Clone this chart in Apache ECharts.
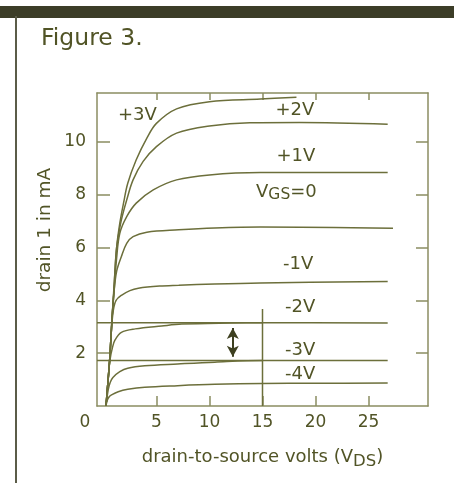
<!DOCTYPE html>
<html><head><meta charset="utf-8">
<script src="https://cdn.jsdelivr.net/npm/echarts@6/dist/echarts.min.js"></script>
<style>html,body{margin:0;padding:0;background:#fff}#c{width:454px;height:483px}</style>
</head><body><div id="c"></div>
<script>
// Drain characteristics of a JFET: drain current (mA) vs drain-to-source voltage (V)
const curveP3 = [[0.25,0],[0.45,1.0],[0.62,1.9],[0.8,3.2],[1.0,4.5],[1.25,6.0],[1.55,6.92],[1.9,7.68],[2.3,8.43],[3.1,9.32],[4.1,10.14],[5.0,10.7],[6.9,11.25],[10,11.52],[14.8,11.62],[18.2,11.69]];
const curveP2 = [[0.25,0],[0.45,1.0],[0.62,1.9],[0.8,3.2],[1.0,4.4],[1.2,5.8],[1.4,6.4],[1.7,7.05],[2.2,7.8],[2.8,8.56],[3.75,9.26],[5.0,9.82],[6.9,10.33],[10,10.6],[13.8,10.72],[18.5,10.73],[26.8,10.67]];
const curveP1 = [[0.25,0],[0.45,1.0],[0.62,1.9],[0.8,3.2],[1.0,4.3],[1.25,5.6],[1.55,6.54],[2.2,7.17],[3.1,7.68],[4.7,8.18],[6.9,8.56],[10,8.75],[14.8,8.84],[26.8,8.84]];
const curve0 = [[0.25,0],[0.45,1.0],[0.62,1.9],[0.8,3.2],[1.0,4.3],[1.25,5.1],[1.7,5.66],[2.2,6.16],[2.8,6.41],[4.1,6.58],[7.1,6.67],[10.5,6.74],[14.8,6.78],[27.3,6.73]];
const curveM1 = [[0.25,0],[0.45,1.0],[0.62,1.9],[0.77,2.95],[0.95,3.65],[1.2,4.0],[1.7,4.19],[2.5,4.37],[3.3,4.46],[5.3,4.54],[7.1,4.57],[10.5,4.62],[14.8,4.66],[26.8,4.71]];
const curveM2 = [[0.25,0],[0.45,1.0],[0.62,1.74],[0.85,2.2],[1.1,2.5],[1.7,2.79],[3.0,2.92],[5.5,3.03],[7.4,3.1],[12,3.14],[15,3.15],[26.8,3.14]];
const curveM3 = [[0.25,0],[0.45,0.6],[0.65,0.9],[0.9,1.08],[1.55,1.3],[2.3,1.43],[3.9,1.52],[7,1.59],[10.5,1.66],[15,1.72],[26.8,1.72]];
const curveM4 = [[0.25,0],[0.35,0.2],[0.55,0.35],[0.77,0.42],[1.4,0.54],[2.3,0.63],[3.9,0.71],[7,0.77],[10.5,0.82],[15,0.85],[20,0.86],[26.8,0.87]];

const curves = [curveP3, curveP2, curveP1, curve0, curveM1, curveM2, curveM3, curveM4];
const gateLabels = ['+3V', '+2V', '+1V', '{v|V}{s|GS}{v|=0}', '-1V', '-2V', '-3V', '-4V'];
const gateLabelAt = [[3.25,10.98],[18.1,11.16],[18.2,9.43],[17.3,8.05],[18.4,5.34],[18.6,3.73],[18.6,2.1],[18.6,1.19]];

// Reference levels between the -2V and -3V curves, and the V_DS marker
const levelHigh = 3.15, levelLow = 1.72;
const levelEndV = 15, markerTop = 3.67;
const arrowV = 12.2, arrowTop = 2.95, arrowBottom = 1.86;

const xTickLabels = [0, 5, 10, 15, 20, 25];
const xTicks = [5, 10, 15, 20, 25];
const yTickLabels = [2, 4, 6, 8, 10];

const ink = '#515426';
const lineCol = '#6c6f3b';
const frameCol = '#8b8d62';
const font = 'DejaVu Sans';

const chart = echarts.init(document.getElementById('c'), null, {renderer: 'canvas'});

const curveSeries = curves.map(d => ({
  type: 'line', data: d, smooth: 0.35, symbol: 'none', silent: true,
  lineStyle: {color: lineCol, width: 1.5}, xAxisIndex: 0, yAxisIndex: 0
}));

const refSeries = [
  [[-0.6, levelHigh], [levelEndV, levelHigh]],
  [[-0.6, levelLow], [levelEndV, levelLow]],
  [[levelEndV, 0], [levelEndV, markerTop]]
].map(d => ({
  type: 'line', data: d, symbol: 'none', silent: true,
  lineStyle: {color: lineCol, width: 1.5}
}));

const arrowSeries = {
  type: 'line', data: [], silent: true,
  markLine: {
    silent: true, symbol: ['arrow', 'arrow'], symbolSize: [9, 11],
    label: {show: false},
    lineStyle: {color: '#3e4020', width: 2, type: 'solid'},
    data: [[{coord: [arrowV, arrowTop]}, {coord: [arrowV, arrowBottom]}]]
  }
};

const labelSeries = {
  type: 'scatter', symbolSize: 1, silent: true,
  itemStyle: {color: '#ffffff'},
  data: gateLabelAt.map((p, i) => ({value: p, name: gateLabels[i]})),
  label: {
    show: true, position: [0, 0], align: 'center', verticalAlign: 'middle',
    formatter: p => p.name, textBorderWidth: 0, opacity: 1,
    color: ink, fontFamily: font, fontSize: 18,
    rich: {
      v: {fontFamily: font, fontSize: 18, color: ink, lineHeight: 20, verticalAlign: 'top'},
      s: {fontFamily: font, fontSize: 15.5, color: ink, lineHeight: 16, padding: [10, 0, 0, 0], verticalAlign: 'bottom'}
    }
  },
  labelLayout: {hideOverlap: false}
};

chart.setOption({
  animation: false,
  backgroundColor: '#ffffff',
  title: {
    text: 'Figure 3.', left: 36, top: 22,
    textStyle: {color: ink, fontFamily: font, fontSize: 23.5, fontWeight: 'normal'}
  },
  grid: {left: 97, right: 26, top: 93, bottom: 77},
  xAxis: [{
    type: 'value', min: -0.6, max: 30.6, position: 'bottom',
    name: 'drain-to-source volts (V{s|DS})', nameLocation: 'middle', nameGap: 38,
    nameTextStyle: {
      color: ink, fontFamily: font, fontSize: 18,
      rich: {s: {fontFamily: font, fontSize: 16.5, color: ink, padding: [9, 0, 0, 0]}}
    },
    axisLine: {show: true, onZero: false, lineStyle: {color: frameCol, width: 1.5}},
    axisTick: {show: true, inside: true, length: 10, customValues: xTicks, lineStyle: {color: frameCol, width: 1.5}},
    axisLabel: {
      show: true, customValues: xTickLabels, margin: 8,
      color: ink, fontFamily: font, fontSize: 17,
      formatter: v => v === 0 ? '{z|0}' : String(v),
      rich: {z: {fontFamily: font, fontSize: 17, color: ink, padding: [0, 37, 0, 0]}}
    },
    splitLine: {show: false}
  }, {
    type: 'value', min: -0.6, max: 30.6, position: 'top',
    axisLine: {show: true, onZero: false, lineStyle: {color: frameCol, width: 1.5}},
    axisTick: {show: true, inside: true, length: 7, customValues: xTicks, lineStyle: {color: frameCol, width: 1.5}},
    axisLabel: {show: false}, splitLine: {show: false}
  }],
  yAxis: [{
    type: 'value', min: 0, max: 11.85, position: 'left',
    axisLine: {show: true, onZero: false, lineStyle: {color: frameCol, width: 1.5}},
    axisTick: {show: true, inside: true, length: 13, customValues: yTickLabels, lineStyle: {color: frameCol, width: 1.5}},
    axisLabel: {show: true, customValues: yTickLabels, margin: 11, color: ink, fontFamily: font, fontSize: 17},
    splitLine: {show: false}
  }, {
    type: 'value', min: 0, max: 11.85, position: 'right',
    axisLine: {show: true, onZero: false, lineStyle: {color: frameCol, width: 1.5}},
    axisTick: {show: true, inside: true, length: 12, customValues: yTickLabels, lineStyle: {color: frameCol, width: 1.5}},
    axisLabel: {show: false}, splitLine: {show: false}
  }],
  graphic: [
    {type: 'rect', shape: {x: 0, y: 6, width: 454, height: 12}, style: {fill: '#3c3d27'}, silent: true},
    {type: 'rect', shape: {x: 15, y: 16, width: 2, height: 467}, style: {fill: '#5b5c48'}, silent: true},
    {type: 'text', x: 45, y: 230, rotation: Math.PI / 2, silent: true,
      style: {text: 'drain 1 in mA', fill: ink, font: '18.5px "DejaVu Sans"', align: 'center', verticalAlign: 'middle'}}
  ],
  series: [...curveSeries, ...refSeries, arrowSeries, labelSeries]
});
</script></body></html>
